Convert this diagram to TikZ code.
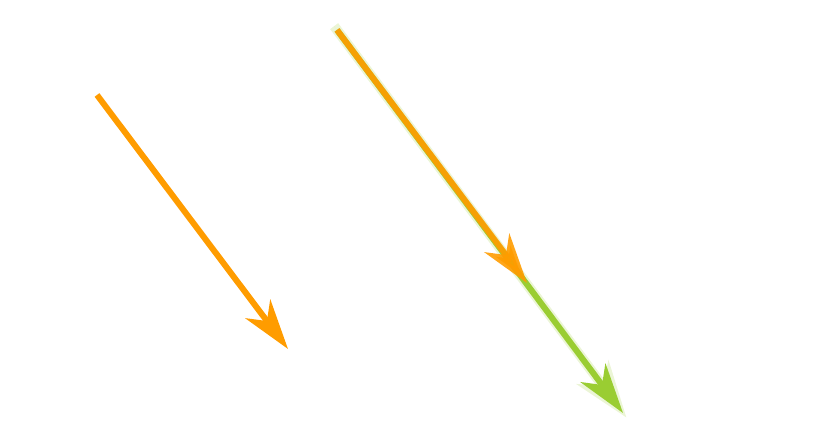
\documentclass[tikz,border=0pt]{standalone}
\usepackage{tikz}
\usetikzlibrary{arrows.meta}
\usetikzlibrary{calc}
\definecolor{vecorange}{HTML}{FF9C00}
\definecolor{vecgreen}{HTML}{9ACD32}
\tikzset{
	% Two arrow styles for the vectors: plain and glowing
	vec arrow/.style={line width=0.12cm,-{Stealth[length=1.0cm,width=0.62cm,inset=0.3cm]}},
	glow line/.style={line width=0.2cm,draw=vecgreen!45,fill=vecgreen!45,opacity=0.45,
		-{Stealth[length=1.12cm,width=0.78cm,inset=0.34cm]}}
}

\begin{document}
\begin{tikzpicture}[x=0.02cm,y=-0.02cm]
			\useasboundingbox (0,0) rectangle (833,442);
			% end points of the vectors
			\coordinate (a0) at (97,95);
			\coordinate (a1) at (288,349);
			\coordinate (b0) at (337,30);
			\coordinate (b1) at (527,283);
			\coordinate (c1) at (623,413);
			
			% single vector
			\draw[vec arrow,vecorange] (a0) -- (a1);
			
			% long vector with glow
			\draw[glow line] ($(b0)!-0.01!(c1)$) -- ($(b0)!1.012!(c1)$);
			\draw[vec arrow,vecgreen] (b0) -- (c1);
			\draw[vec arrow,vecorange,opacity=0.9] (b0) -- (b1);
\end{tikzpicture}
\end{document}
